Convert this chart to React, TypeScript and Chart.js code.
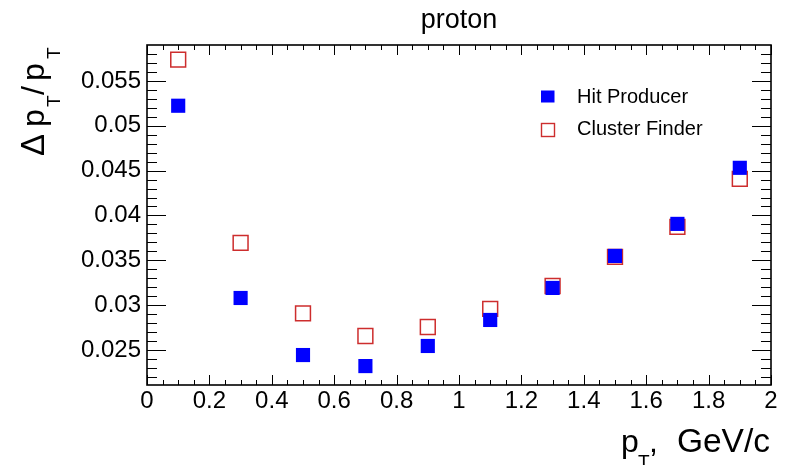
import React, { useEffect, useRef } from "react";
import { Chart, registerables } from "chart.js";

Chart.register(...registerables);

const ptValues = [0.1, 0.3, 0.5, 0.7, 0.9, 1.1, 1.3, 1.5, 1.7, 1.9];
const hitProducer = [0.05223, 0.0308, 0.02444, 0.02321, 0.02545, 0.02835, 0.03192, 0.03549, 0.03906, 0.04531];
const clusterFinder = [0.05737, 0.03694, 0.02908, 0.02656, 0.02757, 0.02958, 0.03214, 0.03538, 0.03873, 0.04408];
const xTickValues = [0, 0.2, 0.4, 0.6, 0.8, 1, 1.2, 1.4, 1.6, 1.8, 2];
const yTickValues = [0.025, 0.03, 0.035, 0.04, 0.045, 0.05, 0.055];
const seriesLabels = ["Hit Producer", "Cluster Finder"];
const chartTitle = "proton";

const X_MIN = 0;
const X_MAX = 2;
const Y_MIN = 0.0211;
const Y_MAX = 0.059;

const FONT = "'Liberation Sans', Arial, Helvetica, sans-serif";
const BLUE = "#0000ff";
const RED = "rgb(205,45,45)";

const fmt = (v: number) => String(Number(v.toFixed(4)));

const rootPlugin = {
  id: "rootStyle",
  beforeDatasetsDraw(chart: any) {
    const { ctx, chartArea } = chart;
    const xs = chart.scales.x;
    const ys = chart.scales.y;
    const { left, right, top, bottom } = chartArea;
    ctx.save();
    ctx.strokeStyle = "#000";
    ctx.lineWidth = 1;
    for (let i = 0; i <= 40; i++) {
      const v = i * 0.05;
      const px = Math.round(xs.getPixelForValue(v)) + 0.5;
      const len = i % 4 === 0 ? 10 : 5;
      ctx.beginPath();
      ctx.moveTo(px, bottom);
      ctx.lineTo(px, bottom - len);
      ctx.moveTo(px, top);
      ctx.lineTo(px, top + len);
      ctx.stroke();
    }
    for (let i = 21; i <= 59; i++) {
      const v = i * 0.001;
      if (v < Y_MIN || v > Y_MAX) continue;
      const py = Math.round(ys.getPixelForValue(v)) + 0.5;
      const len = i % 5 === 0 ? 19 : 10;
      ctx.beginPath();
      ctx.moveTo(left, py);
      ctx.lineTo(left + len, py);
      ctx.moveTo(right, py);
      ctx.lineTo(right - len, py);
      ctx.stroke();
    }
    ctx.lineWidth = 1.6;
    ctx.strokeRect(left, top, right - left, bottom - top);
    ctx.restore();
  },
  afterDraw(chart: any) {
    const { ctx, chartArea } = chart;
    const { left, right } = chartArea;
    ctx.save();
    ctx.fillStyle = "#000";
    ctx.textBaseline = "alphabetic";

    // Title
    ctx.font = `27px ${FONT}`;
    ctx.textAlign = "center";
    ctx.fillText(chartTitle, (left + right) / 2, 28);

    // X axis title: p_T, GeV/c
    ctx.textAlign = "left";
    ctx.font = `32px ${FONT}`;
    ctx.fillText("p", 621, 452);
    ctx.font = `19px ${FONT}`;
    ctx.fillText("T", 638, 468);
    ctx.font = `32px ${FONT}`;
    ctx.fillText(",", 649, 452);
    ctx.textAlign = "right";
    ctx.font = `33.5px ${FONT}`;
    ctx.fillText("GeV/c", right - 1, 452);

    // Y axis title: Δ p_T/p_T (rotated)
    ctx.save();
    ctx.translate(44, 155);
    ctx.rotate(-Math.PI / 2);
    ctx.textAlign = "left";
    ctx.font = `33px ${FONT}`;
    ctx.fillText("Δ", -1, 0);
    ctx.font = `32px ${FONT}`;
    ctx.fillText("p", 28, 0);
    ctx.font = `19px ${FONT}`;
    ctx.fillText("T", 48, 16);
    ctx.font = `32px ${FONT}`;
    ctx.fillText("/", 60, 0);
    ctx.fillText("p", 74, 0);
    ctx.font = `19px ${FONT}`;
    ctx.fillText("T", 96, 16);
    ctx.restore();

    // Legend
    ctx.fillStyle = BLUE;
    ctx.fillRect(541, 90.5, 13.5, 12);
    ctx.strokeStyle = RED;
    ctx.lineWidth = 1.4;
    ctx.strokeRect(541.5, 123.5, 13, 13);
    ctx.fillStyle = "#000";
    ctx.textAlign = "left";
    ctx.font = `20px ${FONT}`;
    ctx.fillText(seriesLabels[0], 577, 102.5);
    ctx.fillText(seriesLabels[1], 577, 135);
    ctx.restore();
  },
};

export default function App() {
  const canvasRef = useRef<HTMLCanvasElement | null>(null);

  useEffect(() => {
    document.body.style.margin = "0";
    const canvas = canvasRef.current;
    if (!canvas) return;
    const chart = new Chart(canvas, {
      type: "scatter",
      data: {
        datasets: [
          {
            label: seriesLabels[0],
            data: ptValues.map((x, i) => ({ x, y: hitProducer[i] })),
            pointStyle: "rect",
            pointRadius: 10,
            backgroundColor: BLUE,
            borderColor: BLUE,
            borderWidth: 0,
          },
          {
            label: seriesLabels[1],
            data: ptValues.map((x, i) => ({ x, y: clusterFinder[i] })),
            pointStyle: "rect",
            pointRadius: 10.5,
            backgroundColor: "rgba(0,0,0,0)",
            borderColor: RED,
            borderWidth: 1.5,
          },
        ],
      },
      plugins: [rootPlugin],
      options: {
        responsive: false,
        animation: false,
        devicePixelRatio: 1,
        layout: { padding: { left: 0, top: 45, right: 18, bottom: 0 } },
        plugins: {
          legend: { display: false },
          title: { display: false },
          tooltip: { enabled: false },
        },
        scales: {
          x: {
            type: "linear",
            min: X_MIN,
            max: X_MAX,
            grid: { display: false, drawTicks: false },
            border: { display: false },
            afterBuildTicks: (s: any) => {
              s.ticks = xTickValues.map((value) => ({ value }));
            },
            afterFit: (s: any) => {
              s.height = 80;
            },
            ticks: {
              padding: 2,
              color: "#000",
              font: { family: FONT, size: 24 },
              maxRotation: 0,
              autoSkip: false,
              callback: (v: any) => fmt(Number(v)),
            },
          },
          y: {
            type: "linear",
            min: Y_MIN,
            max: Y_MAX,
            grid: { display: false, drawTicks: false },
            border: { display: false },
            afterBuildTicks: (s: any) => {
              s.ticks = yTickValues.map((value) => ({ value }));
            },
            afterFit: (s: any) => {
              s.width = 147;
            },
            ticks: {
              padding: 6,
              color: "#000",
              font: { family: FONT, size: 24 },
              autoSkip: false,
              callback: (v: any) => fmt(Number(v)),
            },
          },
        },
      },
    });
    return () => chart.destroy();
  }, []);

  return (
    <div style={{ position: "absolute", left: 0, top: 0, width: 789, height: 465, background: "#fff" }}>
      <canvas ref={canvasRef} width={789} height={465} style={{ display: "block" }} />
    </div>
  );
}
